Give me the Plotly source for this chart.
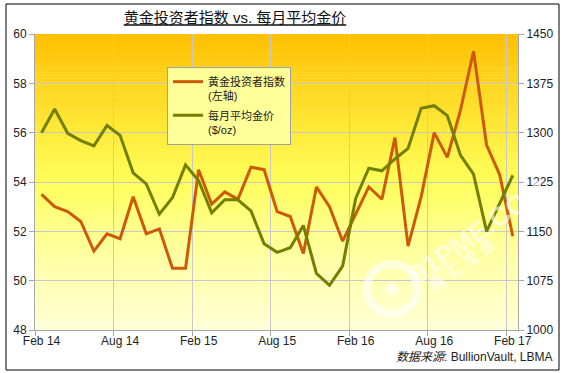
import plotly.graph_objects as go

# ---------------- data ----------------
month_labels = ["Feb 14", "Aug 14", "Feb 15", "Aug 15", "Feb 16", "Aug 16", "Feb 17"]
n_months = 37  # Feb 2014 .. Feb 2017, monthly

investor_index = [53.5, 53.0, 52.8, 52.4, 51.2, 51.9, 51.7, 53.4, 51.9, 52.1, 50.5, 50.5,
                  54.5, 53.1, 53.6, 53.3, 54.6, 54.5, 52.8, 52.6, 51.1, 53.8, 53.0, 51.6,
                  52.7, 53.8, 53.3, 55.8, 51.4, 53.4, 56.0, 55.0, 56.9, 59.3, 55.5, 54.3,
                  51.8]
gold_price = [1300, 1336, 1299, 1288, 1280, 1311, 1296, 1239, 1222, 1176, 1201, 1251,
              1227, 1178, 1198, 1198, 1181, 1131, 1118, 1125, 1159, 1086, 1068, 1097,
              1200, 1246, 1242, 1260, 1276, 1337, 1341, 1326, 1266, 1237, 1150, 1192,
              1235]

name_index = "黄金投资者指数<br>(左轴)"
name_gold = "每月平均金价<br>($/oz)"
title_text = "黄金投资者指数 vs. 每月平均金价"
source_text = "<i>数据来源</i>: BullionVault, LBMA"

# month positions: each month occupies one unit, point in the middle
x_pos = [i + 0.5 for i in range(n_months)]
label_pos = [i * 6 + 0.5 for i in range(len(month_labels))]
grid_pos = [i * 6 for i in range(len(month_labels))]

FONT = "Liberation Sans, Arial, Noto Sans CJK SC, sans-serif"
ORANGE = "#CC5A0A"
OLIVE = "#727F00"

fig = go.Figure()
fig.add_trace(go.Scatter(x=x_pos, y=investor_index, mode="lines", name=name_index,
                         line=dict(color=ORANGE, width=3), yaxis="y",
                         legendgroup="a"))
fig.add_trace(go.Scatter(x=x_pos, y=gold_price, mode="lines", name=name_gold,
                         line=dict(color=OLIVE, width=3), yaxis="y2",
                         legendgroup="b"))

# ---------- gradient background (strips) ----------
stops = [(0.0, (255, 192, 0)), (0.17, (255, 213, 32)), (0.33, (255, 234, 58)),
         (0.5, (255, 254, 90)), (0.67, (255, 255, 144)), (0.83, (255, 255, 181)),
         (1.0, (255, 255, 218))]


def grad(t):
    for (t0, c0), (t1, c1) in zip(stops[:-1], stops[1:]):
        if t0 <= t <= t1:
            f = (t - t0) / (t1 - t0)
            return "rgb(%d,%d,%d)" % tuple(round(a + (b - a) * f) for a, b in zip(c0, c1))
    return "rgb(%d,%d,%d)" % stops[-1][1]


shapes = []
N = 100
for k in range(N):
    t = (k + 0.5) / N
    shapes.append(dict(type="rect", xref="paper", yref="paper", x0=0, x1=1,
                       y0=1 - (k + 1) / N - 0.001, y1=1 - k / N,
                       fillcolor=grad(t), line=dict(width=0), layer="below"))

# outer frame
shapes.append(dict(type="rect", xref="paper", yref="paper",
                   x0=(6 - 35) / 483, x1=(559 - 35) / 483,
                   y0=(330 - 370) / 296, y1=(330 - 4) / 296,
                   line=dict(color="black", width=1), fillcolor="rgba(0,0,0,0)",
                   layer="above"))

# watermark ring + diamond
wm = "rgba(255,255,255,0.62)"
cx, cy, r = 392, 289, 25
shapes.append(dict(type="circle", xref="paper", yref="paper",
                   x0=(cx - r - 35) / 483, x1=(cx + r - 35) / 483,
                   y0=(330 - cy - r) / 296, y1=(330 - cy + r) / 296,
                   line=dict(color=wm, width=8), fillcolor="rgba(0,0,0,0)",
                   layer="above"))


def px(xp, yp):
    return "%f,%f" % ((xp - 35) / 483, (330 - yp) / 296)


d = 8
shapes.append(dict(type="path", xref="paper", yref="paper",
                   path="M%s L%s L%s L%s Z" % (px(cx, cy - d), px(cx + d, cy),
                                                px(cx, cy + d), px(cx - d, cy)),
                   fillcolor=wm, line=dict(width=0), layer="above"))

annotations = [
    dict(text=source_text, xref="paper", yref="paper", x=(555 - 35) / 483,
         y=(330 - 357) / 296, xanchor="right", yanchor="middle", showarrow=False,
         font=dict(family=FONT, size=12, color="#222222")),
    dict(text="<b>91PME.COM</b>", xref="paper", yref="paper", x=(478 - 35) / 483,
         y=(330 - 232) / 296, xanchor="center", yanchor="middle", showarrow=False,
         textangle=-35, font=dict(family=FONT, size=27, color=wm)),
    dict(text="<b>鑫 汇 宝 贵</b>", xref="paper", yref="paper", x=(462 - 35) / 483,
         y=(330 - 265) / 296, xanchor="center", yanchor="middle", showarrow=False,
         textangle=-35, font=dict(family=FONT, size=16, color=wm)),
]

axis_common = dict(showline=True, linecolor="#A6A6A6", linewidth=1,
                   ticks="outside", ticklen=5, tickcolor="#A6A6A6",
                   tickfont=dict(family=FONT, size=12, color="#222222"),
                   zeroline=False, automargin=False)

fig.update_layout(
    width=563, height=373,
    margin=dict(l=35, r=45, t=34, b=43, autoexpand=False),
    paper_bgcolor="white",
    plot_bgcolor="#FFFF80",
    title=dict(text="<u>" + title_text + "</u>", x=235 / 563, xref="container",
               xanchor="center", y=1 - 18 / 373, yref="container", yanchor="middle",
               font=dict(family=FONT, size=15, color="#111111")),
    xaxis=dict(range=[0, 36.9], tickmode="array", tickvals=label_pos,
               ticktext=month_labels, ticks="", showgrid=False, automargin=False,
               showline=True, linecolor="#A6A6A6", zeroline=False,
               tickfont=dict(family=FONT, size=12, color="#222222"),
               minor=dict(tickmode="array", tickvals=grid_pos, showgrid=True,
                          gridcolor="#C8C8C8", gridwidth=1, ticks="outside",
                          ticklen=5, tickcolor="#A6A6A6")),
    yaxis=dict(range=[48, 60], tickmode="array", tickvals=[48, 50, 52, 54, 56, 58, 60],
               showgrid=True, gridcolor="#C8C8C8", **axis_common),
    yaxis2=dict(range=[1000, 1450], tickmode="array",
                tickvals=[1000, 1075, 1150, 1225, 1300, 1375, 1450],
                overlaying="y", side="right", showgrid=False, **axis_common),
    legend=dict(x=(167 - 35) / 483, y=(330 - 67) / 296, xanchor="left", yanchor="top",
                bgcolor="#FFFF99", bordercolor="#A0A0A0", borderwidth=1,
                font=dict(family=FONT, size=11, color="#222222"),
                valign="top", traceorder="grouped", tracegroupgap=2),
    shapes=shapes,
    annotations=annotations,
)

fig.write_html("out.html",
               config={"displayModeBar": False},
               post_script="document.body.style.margin='0px';"
                           "document.body.style.overflow='hidden';")
